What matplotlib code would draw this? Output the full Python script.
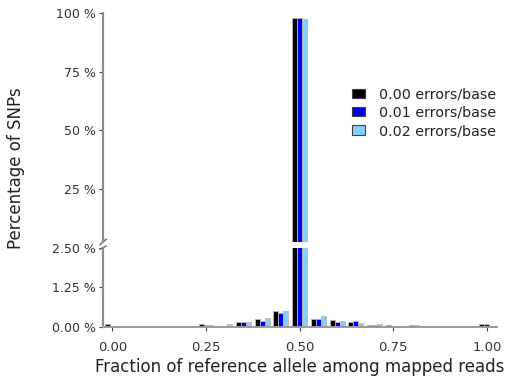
import matplotlib
matplotlib.use("Agg")
import matplotlib.pyplot as plt
from matplotlib.patches import Patch
import numpy as np

plt.rcParams['font.family'] = ['DejaVu Sans']

# Allele fraction bins and percentage of SNPs per bin
bins = [0.00, 0.05, 0.10, 0.15, 0.20, 0.25, 0.30, 0.35, 0.40, 0.45, 0.50,
        0.55, 0.60, 0.65, 0.70, 0.75, 0.80, 0.85, 0.90, 0.95, 1.00]
err_000 = [0.08, 0.00, 0.00, 0.00, 0.04, 0.10, 0.03, 0.17, 0.25, 0.49, 97.9,
           0.25, 0.21, 0.15, 0.07, 0.07, 0.00, 0.00, 0.00, 0.00, 0.08]
err_001 = [0.04, 0.04, 0.00, 0.00, 0.03, 0.06, 0.03, 0.15, 0.18, 0.45, 97.7,
           0.26, 0.15, 0.19, 0.07, 0.03, 0.05, 0.00, 0.00, 0.00, 0.09]
err_002 = [0.04, 0.03, 0.03, 0.03, 0.03, 0.05, 0.08, 0.14, 0.27, 0.50, 97.4,
           0.33, 0.19, 0.12, 0.09, 0.03, 0.05, 0.00, 0.00, 0.00, 0.04]
series_labels = ['0.00 errors/base', '0.01 errors/base', '0.02 errors/base']
colors = ['#000000', '#0000ee', '#87cefa']

fig = plt.figure(figsize=(5.11, 3.81), dpi=100)
left, right = 0.2016, 0.9726
ax_top = fig.add_axes([left, 0.365, right - left, 0.966 - 0.365])
ax_bot = fig.add_axes([left, 0.142, right - left, 0.349 - 0.142])

x = np.array(bins)
w = 0.0133
for ax in (ax_top, ax_bot):
    for i, (vals, c) in enumerate(zip([err_000, err_001, err_002], colors)):
        ax.bar(x + (i - 1) * w, vals, width=w, color=c, edgecolor='#b8b8b8',
               linewidth=0.6)
    ax.set_xlim(-0.025, 1.027)
    for s in ('top', 'right'):
        ax.spines[s].set_visible(False)
    ax.spines['left'].set_color('#8c8c8c')
    ax.spines['left'].set_linewidth(1.6)
    ax.tick_params(axis='y', length=3, width=0.8, color='#404040', pad=2,
                   labelsize=9, labelcolor='#333333')

# upper part of the broken axis
ax_top.set_ylim(2.5, 100)
ax_top.set_yticks([25, 50, 75, 100])
ax_top.set_yticklabels(['25 %', '50 %', '75 %', '100 %'])
ax_top.spines['bottom'].set_visible(False)
ax_top.set_xticks([])

# lower part
ax_bot.set_ylim(0, 2.5)
ax_bot.set_yticks([0, 1.25, 2.5])
ax_bot.set_yticklabels(['0.00 %', '1.25 %', '2.50 %'])
ax_bot.spines['bottom'].set_color('#9a9a9a')
ax_bot.spines['bottom'].set_linewidth(1.4)
ax_bot.set_xticks([0, 0.25, 0.5, 0.75, 1.0])
ax_bot.set_xticklabels(['0.00', '0.25', '0.50', '0.75', '1.00'])
ax_bot.tick_params(axis='x', length=3, width=0.8, color='#404040', pad=7,
                   labelsize=9.5, labelcolor='#333333')
ax_bot.set_xlabel('Fraction of reference allele among mapped reads',
                  fontsize=12, color='#222222', labelpad=3)

# break marks on the y axis
kw = dict(color='#555555', lw=0.9, clip_on=False)
ax_top.plot([-0.008, 0.008], [-0.012, 0.012], transform=ax_top.transAxes, **kw)
ax_bot.plot([-0.008, 0.008], [0.985, 1.025], transform=ax_bot.transAxes, **kw)

fig.text(16 / 511, 1 - 168 / 381, 'Percentage of SNPs', rotation=90,
         ha='center', va='center', fontsize=12, color='#222222')

handles = [Patch(facecolor=c, edgecolor='#404040', linewidth=0.8, label=lab)
           for c, lab in zip(colors, series_labels)]
ax_top.legend(handles=handles, loc='upper left', bbox_to_anchor=(0.6, 0.731),
              frameon=False, fontsize=10.3, handlelength=0.9, handleheight=0.6,
              handletextpad=1.0, labelspacing=0.3, labelcolor='#222222')

fig.savefig('out.png', dpi=100)
